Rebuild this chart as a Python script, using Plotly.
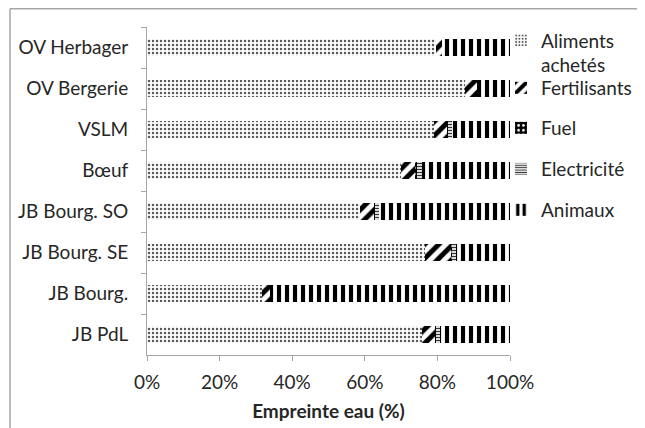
import plotly.graph_objects as go

categories = ["OV Herbager", "OV Bergerie", "VSLM", "Bœuf", "JB Bourg. SO",
              "JB Bourg. SE", "JB Bourg.", "JB PdL"]
aliments = [79.6, 87.6, 79.1, 69.9, 58.7, 76.6, 31.7, 75.7]
fertilisants = [1.6, 3.3, 3.6, 4.2, 3.9, 7.2, 2.2, 3.7]
fuel = [0.0, 0.0, 0.3, 0.3, 0.3, 0.3, 0.0, 0.3]
electricite = [0.0, 0.0, 1.1, 1.4, 1.1, 0.9, 0.0, 1.1]
animaux = [18.8, 9.1, 15.9, 24.2, 36.0, 15.0, 66.1, 19.2]
series_names = ["Aliments<br>achetés", "Fertilisants", "Fuel", "Electricité", "Animaux"]
x_ticks = [0, 20, 40, 60, 80, 100]
x_ticktext = ["0%", "20%", "40%", "60%", "80%", "100%"]

FONT = "Lato"
FS = 19
TXT = "#262626"

patterns = [
    dict(shape=".", fgcolor="#5a5a5a", bgcolor="white", size=4, solidity=0.3, fillmode="replace"),
    dict(shape="/", fgcolor="black", bgcolor="white", size=10, solidity=0.5, fillmode="replace"),
    dict(shape=".", fgcolor="white", bgcolor="black", size=6, solidity=0.25, fillmode="replace"),
    dict(shape="-", fgcolor="#333333", bgcolor="white", size=3, solidity=0.45, fillmode="replace"),
    dict(shape="|", fgcolor="black", bgcolor="white", size=8, solidity=0.52, fillmode="replace"),
]

# page is offset by the browser's default 8px body margin
OFF = 8
W, H = 645 - OFF, 428 - OFF
L, R, T, B = 147 - OFF, W - (510 - OFF), 27 - OFF, H - (355 - OFF)
pw, ph = W - L - R, H - T - B
def px(x): return (x - OFF - L) / pw
def py(y): return (H + OFF - B - y) / ph

legend_ids = ["legend", "legend2", "legend3", "legend4", "legend5"]
legend_y_page = [53.0, 88, 128, 169, 210]
legend_text_x_page = 541

fig = go.Figure()
for i, (name, vals) in enumerate(zip(series_names,
                                     [aliments, fertilisants, fuel, electricite, animaux])):
    fig.add_trace(go.Bar(
        y=categories, x=vals, name=name, orientation="h",
        legend=legend_ids[i], showlegend=True,
        marker=dict(color="white", line=dict(width=0), pattern=patterns[i]),
    ))

legend_common = dict(xanchor="left", yanchor="middle", bgcolor="rgba(0,0,0,0)",
                     borderwidth=0, itemwidth=30, valign="top",
                     font=dict(family=FONT, size=FS, color=TXT))
legends = {}
for i, lid in enumerate(legend_ids):
    legends[lid] = dict(x=px(legend_text_x_page - 40), y=py(legend_y_page[i]), **legend_common)

fig.update_layout(
    width=W, height=H,
    margin=dict(l=L, r=R, t=T, b=B, autoexpand=False),
    barmode="stack", bargap=0.6,
    showlegend=True,
    paper_bgcolor="white", plot_bgcolor="white",
    font=dict(family=FONT, size=FS, color=TXT),
    xaxis=dict(range=[0, 100], tickvals=x_ticks, ticktext=x_ticktext,
               showgrid=False, zeroline=False,
               showline=True, linecolor="#a6a6a6", linewidth=1,
               ticks="outside", ticklen=5, tickcolor="#a6a6a6",
               ticklabelstandoff=5,
               tickfont=dict(family=FONT, size=FS, color=TXT),
               title=dict(text="<b>Empreinte eau (%)</b>", standoff=12,
                          font=dict(family=FONT, size=FS, color=TXT))),
    yaxis=dict(categoryorder="array", categoryarray=categories, autorange="reversed",
               showgrid=False, zeroline=False,
               showline=True, linecolor="#a6a6a6", linewidth=1,
               ticks="outside", ticklen=5, tickcolor="#a6a6a6", tickson="boundaries",
               ticklabelstandoff=14,
               tickfont=dict(family=FONT, size=FS, color=TXT)),
    **legends,
)

fig.add_shape(type="line", xref="paper", yref="paper",
              x0=px(10), y0=py(8.7), x1=px(650), y1=py(8.7),
              line=dict(color="#a6a6a6", width=1.5))
fig.add_shape(type="line", xref="paper", yref="paper",
              x0=px(10), y0=py(8.7), x1=px(10), y1=py(440),
              line=dict(color="#a6a6a6", width=1.5))

fig.write_html("out.html")
